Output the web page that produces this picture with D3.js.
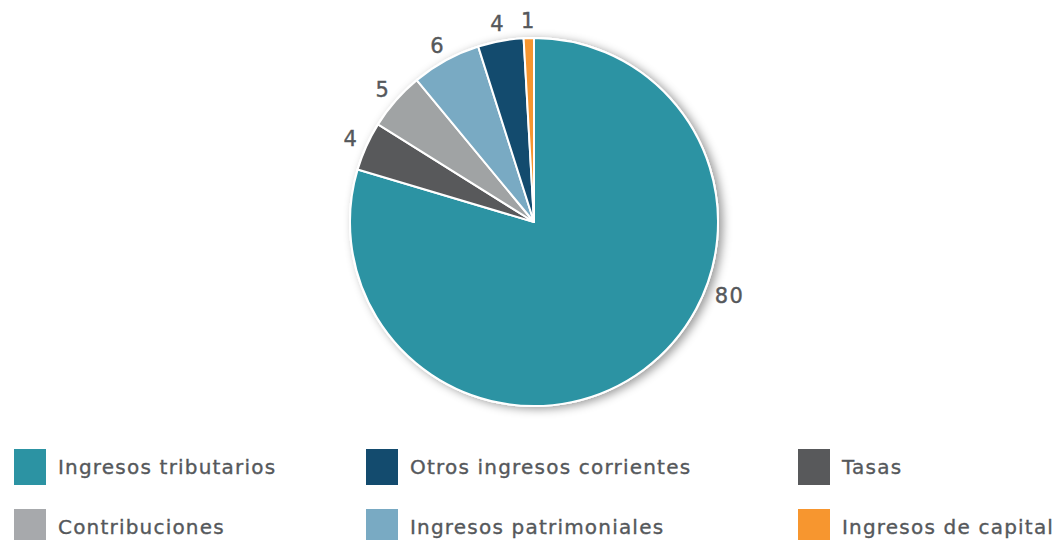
<!DOCTYPE html>
<html><head><meta charset="utf-8">
<script src="https://cdn.jsdelivr.net/npm/d3@7"></script>
<style>body{margin:0;background:#fff}svg{display:block}</style>
</head><body>
<svg id="c" width="1063" height="540"></svg>
<script>
const categories = ["Ingresos tributarios","Tasas","Contribuciones","Ingresos patrimoniales","Otros ingresos corrientes","Ingresos de capital"];
const values = [79.6, 4.3, 5.1, 6.1, 4.0, 0.9];
const colors = ["#2c93a3","#58595b","#a0a3a4","#79aac3","#134b6e","#f7962f"];
const legendOrder = ["Ingresos tributarios","Otros ingresos corrientes","Tasas","Contribuciones","Ingresos patrimoniales","Ingresos de capital"];
const legendColors = {"Contribuciones":"#a7a9ac"};

const svg = d3.select("#c");
const cx = 534, cy = 222, R = 184;
const font = "'DejaVu Sans', sans-serif";
const textColor = "#55585b";

const defs = svg.append("defs");
const f = defs.append("filter").attr("id","sh").attr("x","-20%").attr("y","-20%").attr("width","140%").attr("height","140%");
f.append("feDropShadow").attr("dx",4).attr("dy",2).attr("stdDeviation",5).attr("flood-color","#000").attr("flood-opacity",0.4);

const color = d3.scaleOrdinal().domain(categories).range(colors);
const data = categories.map((c,i)=>({name:c, value:values[i]}));
const pie = d3.pie().value(d=>d.value).sort(null);
const arcs = pie(data);
const arc = d3.arc().innerRadius(0).outerRadius(R);

const g = svg.append("g").attr("transform",`translate(${cx},${cy})`);
g.append("circle").attr("r",R+1).attr("fill","#fff").attr("filter","url(#sh)");
g.selectAll("path").data(arcs).join("path")
  .attr("d",arc).attr("fill",d=>color(d.data.name))
  .attr("stroke","#fff").attr("stroke-width",2).attr("stroke-linejoin","round");

const fmt = d3.format(".0f");
g.selectAll("text.lbl").data(arcs).join("text").attr("class","lbl")
  .each(function(d){
    const frac = d.data.value > 50 ? 0.386 : 0.5;
    const a = d.startAngle + (d.endAngle-d.startAngle)*frac;
    const r = d.data.value > 50 ? 209 : 201;
    d3.select(this).attr("x", Math.sin(a)*r).attr("y", -Math.cos(a)*r);
  })
  .attr("text-anchor","middle").attr("dominant-baseline","central")
  .attr("font-family",font).attr("font-size",21).attr("fill",textColor)
  .attr("stroke",textColor).attr("stroke-width",0.4)
  .attr("letter-spacing",1.5)
  .text(d=>fmt(d.data.value));

const colX = [14, 366, 798];
const rowY = [449, 509];
const leg = svg.append("g");
legendOrder.forEach((name,i)=>{
  const col = i%3, row = Math.floor(i/3);
  const x = colX[col], y = rowY[row];
  leg.append("rect").attr("x",x).attr("y",y).attr("width",32).attr("height",36)
    .attr("fill", legendColors[name] || color(name));
  leg.append("text").attr("x",x+44).attr("y",y+18).attr("dominant-baseline","central")
    .attr("font-family",font).attr("font-size",20).attr("fill",textColor)
    .attr("stroke",textColor).attr("stroke-width",0.35)
    .attr("letter-spacing",1.2).text(name);
});
</script>
</body></html>
